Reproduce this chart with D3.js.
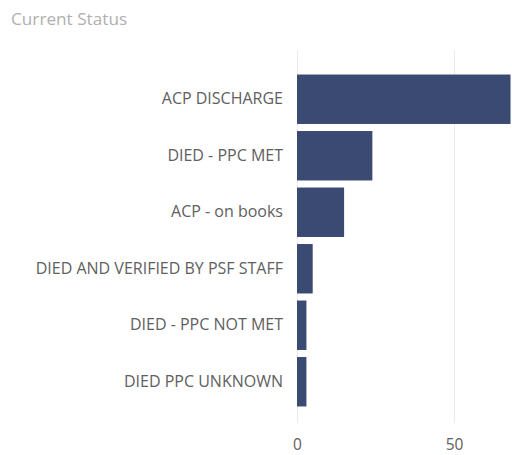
<!DOCTYPE html>
<html>
<head>
<meta charset="utf-8">
<script src="https://cdn.jsdelivr.net/npm/d3@7"></script>
<style>
  html, body { margin: 0; padding: 0; background: #fff; }
  svg { display: block; }
</style>
</head>
<body>
<svg id="chart" width="512" height="455"></svg>
<script>
// Status categories and their counts
const categories = [
  "ACP DISCHARGE",
  "DIED - PPC MET",
  "ACP - on books",
  "DIED AND VERIFIED BY PSF STAFF",
  "DIED - PPC NOT MET",
  "DIED PPC UNKNOWN"
];
const counts = [68, 24, 15, 5, 3, 3];
const tickValues = [0, 50];
const title = "Current Status";

const W = 512, H = 455;
const plot = { left: 297, right: 511, top: 50, bottom: 423 };
const font = "'Open Sans', 'Segoe UI', sans-serif";

const svg = d3.select("#chart");

svg.append("text")
  .attr("x", 11)
  .attr("y", 25)
  .attr("font-family", font)
  .attr("font-size", 17.2)
  .attr("fill", "#b0b0b0")
  .text(title);

const x = d3.scaleLinear().domain([0, 50]).range([plot.left, plot.left + 157]);
const y = d3.scaleBand().domain(categories).range([71, 410]).paddingInner(0.125).paddingOuter(0.0625);

// Vertical gridlines
svg.append("g")
  .selectAll("line")
  .data(tickValues)
  .join("line")
  .attr("x1", d => x(d) + 0.5)
  .attr("x2", d => x(d) + 0.5)
  .attr("y1", plot.top)
  .attr("y2", plot.bottom)
  .attr("stroke", "#eaeaea")
  .attr("stroke-width", 1);

// Clip the bars to the plotting area
svg.append("clipPath").attr("id", "plotClip")
  .append("rect")
  .attr("x", plot.left)
  .attr("y", 0)
  .attr("width", plot.right - plot.left)
  .attr("height", H);

svg.append("g")
  .attr("clip-path", "url(#plotClip)")
  .selectAll("rect")
  .data(categories)
  .join("rect")
  .attr("x", x(0))
  .attr("y", d => y(d))
  .attr("width", (d, i) => x(counts[i]) - x(0))
  .attr("height", y.bandwidth())
  .attr("fill", "#3a4a72");

// Category axis labels
const yAxis = d3.axisLeft(y).tickSize(0).tickPadding(14);
const gy = svg.append("g").attr("transform", `translate(${plot.left},0)`).call(yAxis);
gy.select(".domain").remove();
gy.selectAll("text")
  .attr("font-family", font)
  .attr("font-size", 16)
  .attr("fill", "#606060");

// Value axis labels
const xAxis = d3.axisBottom(x).tickValues(tickValues).tickSize(0).tickPadding(0);
const gx = svg.append("g").attr("transform", `translate(0,${plot.bottom + 16})`).call(xAxis);
gx.select(".domain").remove();
gx.selectAll("text")
  .attr("font-family", font)
  .attr("font-size", 15.5)
  .attr("fill", "#606060");
</script>
</body>
</html>
